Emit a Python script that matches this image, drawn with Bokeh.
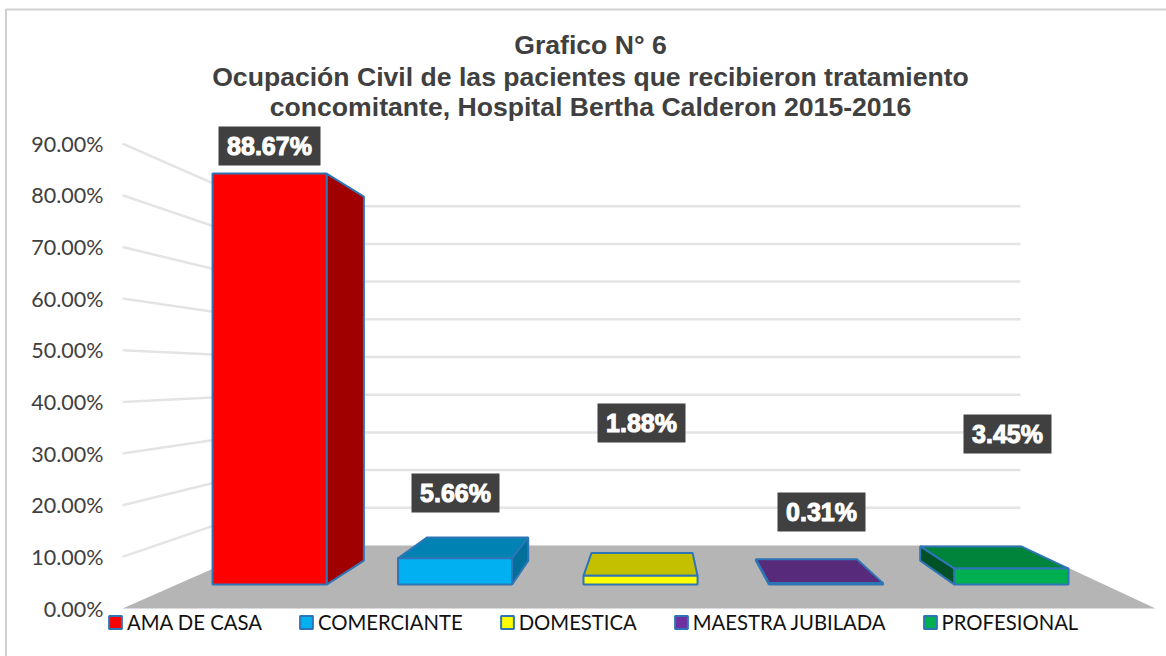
from bokeh.plotting import figure
from bokeh.models import Range1d, Legend, LegendItem, FixedTicker, CustomJSTickFormatter
from bokeh.core.properties import value
from bokeh.embed import file_html
from bokeh.resources import INLINE

categories = ["AMA DE CASA", "COMERCIANTE", "DOMESTICA", "MAESTRA JUBILADA", "PROFESIONAL"]
values = [88.67, 5.66, 1.88, 0.31, 3.45]
front_colors = ["#FF0000", "#00B0F0", "#FFFF00", "#7030A0", "#00B050"]
top_colors = ["#C00000", "#0083B3", "#C4C000", "#582A7C", "#00843C"]
side_colors = ["#A00000", "#00709A", "#A0A000", "#45205F", "#005028"]
tick_values = [0, 10, 20, 30, 40, 50, 60, 70, 80, 90]
label_boxes = [(269, 145.5, 102), (455, 492.5, 88), (641, 422.5, 88), (821, 511.5, 88), (1007, 433.5, 88)]
title_lines = ["Grafico N° 6",
               "Ocupación Civil de las pacientes que recibieron tratamiento",
               "concomitante, Hospital Bertha Calderon 2015-2016"]
title_y = [44, 76, 106]

W, H = 1166, 656
BASE = 608.0       # pixel row of 0% on the front edge
FRONT_SCALE = 5.165
BACK_SCALE = 3.77
FLOOR_DEPTH = 63.0
L0, L1, R0, R1 = 122.0, 265.0, 1155.0, 1020.0
T_FRONT, T_BACK = 0.38, 0.76
HALF = 0.0615


def to_v(py):
    return (BASE - py) / FRONT_SCALE


def proj(u, v, t):
    left = L0 + (L1 - L0) * t
    right = R0 + (R1 - R0) * t
    x = left + u * (right - left)
    py = BASE - FLOOR_DEPTH * t - v * (FRONT_SCALE + (BACK_SCALE - FRONT_SCALE) * t)
    return x, to_v(py)


p = figure(width=W, height=H, output_backend="svg", toolbar_location=None,
           x_range=Range1d(0, W), y_range=Range1d(to_v(H), to_v(0)),
           min_border=0, x_axis_type=None, y_axis_type="linear")
p.grid.visible = False
p.outline_line_color = None
p.background_fill_color = "white"

yax = p.yaxis[0]
yax.fixed_location = 108
yax.ticker = FixedTicker(ticks=tick_values)
yax.formatter = CustomJSTickFormatter(code="return tick.toFixed(2) + '%';")
yax.axis_line_color = None
yax.major_tick_line_color = None
yax.minor_tick_line_color = None
yax.major_label_text_font = "Lato"
yax.major_label_text_font_size = "21.5px"
yax.major_label_text_color = "#404040"
yax.major_label_standoff = -1

# chart frame
p.line([5.5, 5.5, W], [to_v(H), to_v(9), to_v(9)], line_color="#D0D0D0", line_width=2)

# walls
for v in tick_values[1:]:
    fx, fy = proj(0, v, 0)
    bx, by = proj(0, v, 1)
    rx, _ = proj(1, v, 1)
    p.line([fx, bx, rx], [fy, by, by], line_color="#E4E4E4", line_width=2.5)

# floor
corners = [proj(0, 0, 0), proj(0, 0, 1), proj(1, 0, 1), proj(1, 0, 0)]
p.patch([c[0] for c in corners], [c[1] for c in corners], fill_color="#B5B5B5", line_color=None)

# bars
EDGE = "#2E75B6"
EDGE_W = 2
items = []
for i, name in enumerate(categories):
    u0, u1 = (i + 0.5) / 5 - HALF, (i + 0.5) / 5 + HALF
    v = values[i]
    fl, fr = proj(u0, 0, T_FRONT)[0], proj(u1, 0, T_FRONT)[0]
    bl, br = proj(u0, 0, T_BACK)[0], proj(u1, 0, T_BACK)[0]
    fy0, fy1 = proj(u0, 0, T_FRONT)[1], proj(u0, v, T_FRONT)[1]
    by0, by1 = proj(u0, 0, T_BACK)[1], proj(u0, v, T_BACK)[1]
    if by1 > fy1:
        p.patch([fl, bl, br, fr], [fy1, by1, by1, fy1], fill_color=top_colors[i],
                line_color=EDGE, line_width=EDGE_W)
    if br > fr:
        p.patch([fr, br, br, fr], [fy0, by0, by1, fy1], fill_color=side_colors[i],
                line_color=EDGE, line_width=EDGE_W)
    if bl < fl:
        p.patch([fl, bl, bl, fl], [fy0, by0, by1, fy1], fill_color=side_colors[i],
                line_color=EDGE, line_width=EDGE_W)
    r = p.quad(left=fl, right=fr, bottom=fy0, top=fy1, fill_color=front_colors[i],
               line_color=EDGE, line_width=EDGE_W)
    items.append(LegendItem(label=name, renderers=[r]))

# data labels
for v, (cx, cy, w) in zip(values, label_boxes):
    half_h = 19.5
    p.quad(left=cx - w / 2, right=cx + w / 2, bottom=to_v(cy + half_h), top=to_v(cy - half_h),
           fill_color="#404040", line_color=None)
    p.text(x=[cx], y=[to_v(cy)], text=[f"{v:.2f}%"], text_align="center", text_baseline="middle",
           text_color="white", text_font=value("Liberation Sans"), text_font_style="bold",
           text_font_size="25px", text_outline_color="white")

# title
for line, y in zip(title_lines, title_y):
    p.text(x=[590], y=[to_v(y)], text=[line], text_align="center", text_baseline="middle",
           text_color="#404040", text_font=value("Liberation Sans"), text_font_style="bold",
           text_font_size="26.6px")

legend = Legend(items=items, orientation="horizontal", location=(107, 22),
                background_fill_alpha=0, border_line_color=None,
                label_text_font="Lato", label_text_font_size="20.3px", label_text_color="#111111",
                glyph_width=16, glyph_height=16, label_standoff=4, spacing=36, padding=0, margin=0)
p.add_layout(legend, "center")

open("out.html", "w").write(file_html(p, INLINE))
